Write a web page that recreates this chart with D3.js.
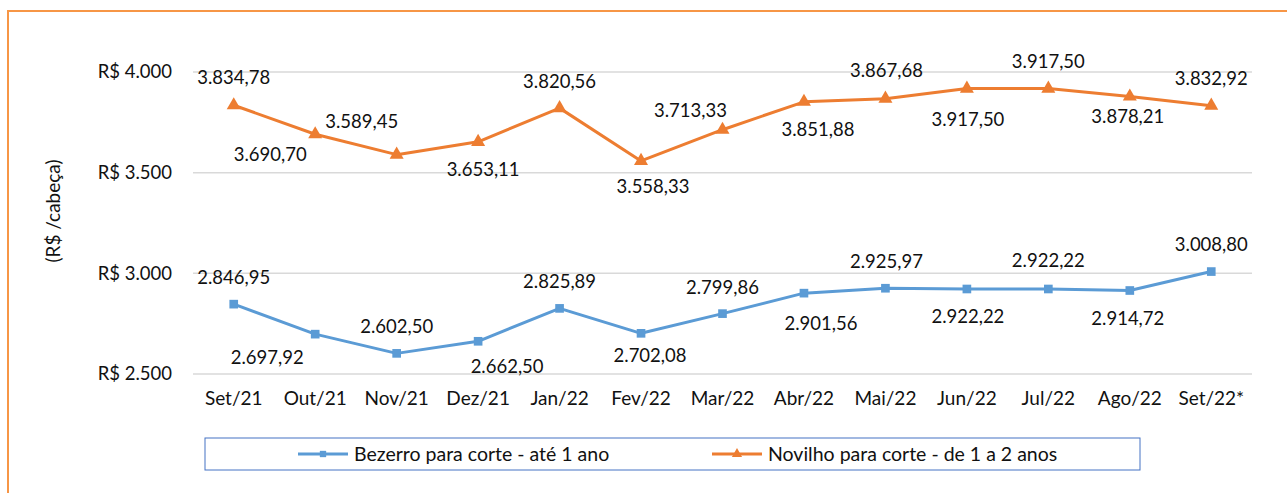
<!DOCTYPE html>
<html><head><meta charset="utf-8">
<script src="https://cdn.jsdelivr.net/npm/d3@7"></script>
<style>body{margin:0;background:#fff}svg{display:block}text{font-family:Lato,"Open Sans",sans-serif;fill:#111}</style>
</head><body><svg id="c" width="1287" height="493"></svg>
<script>
const categories = ["Set/21","Out/21","Nov/21","Dez/21","Jan/22","Fev/22","Mar/22","Abr/22","Mai/22","Jun/22","Jul/22","Ago/22","Set/22*"];
const bezerro = [2846.95,2697.92,2602.50,2662.50,2825.89,2702.08,2799.86,2901.56,2925.97,2922.22,2922.22,2914.72,3008.80];
const novilho = [3834.78,3690.70,3589.45,3653.11,3820.56,3558.33,3713.33,3851.88,3867.68,3917.50,3917.50,3878.21,3832.92];
const yTicks = [2500,3000,3500,4000];
const seriesNames = ["Bezerro para corte - até 1 ano","Novilho para corte - de 1 a 2 anos"];

// layout: data label offsets (dx, dy) from each point
const offB = [[0,-27],[-48,23],[0,-27],[29,25],[0,-27],[9,22],[0,-26],[17,30],[1,-27],[1,28],[0,-28],[-2,28],[0,-27]];
const offN = [[0,-28],[-45,20],[-35,-33],[5,28],[0,-27],[12,26],[-32,-19],[14,28],[1,-28],[1,31],[0,-27],[-2,20],[0,-27]];

const FS_LABEL = 18.5, FS_Y = 18.5, FS_X = 19, FS_LEG = 19.5, FS_TITLE = 19;

const svg = d3.select("#c");
const L=193,R=1252,T=72,B=374;
const x = d3.scaleBand().domain(categories).range([L,R]);
const y = d3.scaleLinear().domain([2500,4000]).range([B,T]);
const cx = d => x(d)+x.bandwidth()/2;
const fmt = v => {const s=v.toFixed(2).split("."); return s[0].replace(/\B(?=(\d{3})+(?!\d))/g,".")+","+s[1];};

svg.append("rect").attr("x",8).attr("y",11).attr("width",1400).attr("height",600)
  .attr("fill","none").attr("stroke","#F79646").attr("stroke-width",2);

// gridlines
svg.append("g").selectAll("line").data(yTicks).join("line")
  .attr("x1",L).attr("x2",R).attr("y1",d=>y(d)).attr("y2",d=>y(d))
  .attr("stroke","#D9D9D9").attr("stroke-width",1.5);

// y axis
const ya = svg.append("g").attr("transform",`translate(${L},0)`)
  .call(d3.axisLeft(y).tickValues(yTicks).tickSize(0).tickPadding(21)
  .tickFormat(d=>"R$ "+d3.format(",")(d).replace(/,/g,".")));
ya.select(".domain").remove();
ya.selectAll("text").attr("font-size",FS_Y).style("font-family","Lato,'Open Sans',sans-serif").attr("fill","#111");

// x axis
const xa = svg.append("g").attr("transform",`translate(0,${B})`)
  .call(d3.axisBottom(x).tickSize(0).tickPadding(18));
xa.select(".domain").remove();
xa.selectAll("text").attr("font-size",FS_X).style("font-family","Lato,'Open Sans',sans-serif").attr("fill","#111");

svg.append("text").attr("transform","translate(53,211) rotate(-90)").attr("text-anchor","middle")
  .attr("dy","0.35em").attr("font-size",FS_TITLE).text("(R$ /cabeça)");

const line = d3.line().x((d,i)=>cx(categories[i])).y(d=>y(d));
function drawSeries(vals,color,marker,off){
  svg.append("path").datum(vals).attr("d",line).attr("fill","none").attr("stroke",color).attr("stroke-width",3).attr("stroke-linejoin","round");
  const sym = d3.symbol().type(marker).size(marker===d3.symbolSquare?75:85);
  svg.append("g").selectAll("path").data(vals).join("path")
    .attr("transform",(d,i)=>`translate(${cx(categories[i])},${y(d)})`).attr("d",sym).attr("fill",color);
  svg.append("g").selectAll("text").data(vals).join("text")
    .attr("x",(d,i)=>cx(categories[i])+off[i][0]).attr("y",(d,i)=>y(d)+off[i][1])
    .attr("dy","0.35em").attr("text-anchor","middle").attr("font-size",FS_LABEL).text(fmt);
}
drawSeries(bezerro,"#5B9BD5",d3.symbolSquare,offB);
drawSeries(novilho,"#ED7D31",d3.symbolTriangle,offN);

// legend
svg.append("rect").attr("x",205).attr("y",438).attr("width",935).attr("height",32)
  .attr("fill","none").attr("stroke","#4472C4").attr("stroke-width",1);
const leg = [{x:298,c:"#5B9BD5",m:d3.symbolSquare,s:40},{x:712,c:"#ED7D31",m:d3.symbolTriangle,s:45}];
leg.forEach((l,i)=>{
  svg.append("line").attr("x1",l.x).attr("x2",l.x+50).attr("y1",454).attr("y2",454).attr("stroke",l.c).attr("stroke-width",3);
  svg.append("path").attr("transform",`translate(${l.x+25},454)`).attr("d",d3.symbol().type(l.m).size(l.s)).attr("fill",l.c);
  svg.append("text").attr("x",l.x+56).attr("y",454).attr("dy","0.35em").attr("font-size",FS_LEG).text(seriesNames[i]);
});
</script></body></html>
